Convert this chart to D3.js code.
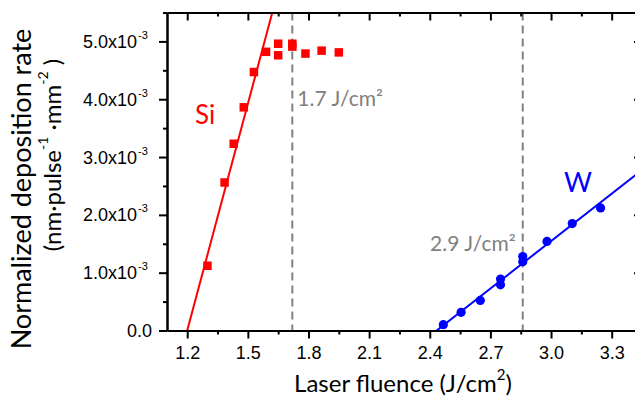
<!DOCTYPE html>
<html>
<head>
<meta charset="utf-8">
<script src="https://cdn.jsdelivr.net/npm/d3@7"></script>
<style>
  html, body { margin: 0; padding: 0; background: #fff; }
  svg { display: block; font-family: Lato, "Open Sans", sans-serif; }
</style>
</head>
<body>
<svg id="chart" width="635" height="398"></svg>
<script>
// Si deposition rate vs. fluence (rate in units of 1e-3 nm·pulse^-1·mm^-2)
const siFluence = [1.30, 1.385, 1.43, 1.48, 1.53, 1.59, 1.65, 1.65, 1.72, 1.72, 1.785, 1.865, 1.95];
const siRate    = [1.12, 2.56, 3.23, 3.86, 4.47, 4.82, 4.96, 4.76, 4.96, 4.91, 4.79, 4.84, 4.81];

// W deposition rate vs. fluence
const wFluence = [2.467, 2.555, 2.65, 2.75, 2.75, 2.86, 2.86, 2.98, 3.105, 3.245];
const wRate    = [0.10, 0.315, 0.52, 0.89, 0.79, 1.28, 1.19, 1.54, 1.85, 2.12];

// Linear fits (end points)
const siFitFluence = [1.2, 1.621];
const siFitRate    = [0.0, 5.5];
const wFitFluence  = [2.434, 3.45];
const wFitRate     = [0.0, 2.776];

// Threshold markers
const thresholdFluence = [1.72, 2.86];
const thresholdLabels  = ["1.7 J/cm²", "2.9 J/cm²"];

// Axis ticks
const xMajorTicks = [1.2, 1.5, 1.8, 2.1, 2.4, 2.7, 3.0, 3.3];
const xMinorTicks = [1.35, 1.65, 1.95, 2.25, 2.55, 2.85, 3.15, 3.45];
const yMajorTicks = [0, 1, 2, 3, 4, 5];
const yMinorTicks = [0.5, 1.5, 2.5, 3.5, 4.5, 5.5];

const svg = d3.select("#chart");
const plotLeft = 167, plotRight = 642, plotTop = 12.5, plotBottom = 330.5;

const x = d3.scaleLinear().domain([1.1, 3.45]).range([plotLeft, plotRight]);
const y = d3.scaleLinear().domain([0, 5.5]).range([plotBottom, plotTop]);

svg.append("defs").append("clipPath").attr("id", "plotClip")
  .append("rect").attr("x", plotLeft).attr("y", plotTop)
  .attr("width", plotRight - plotLeft).attr("height", plotBottom - plotTop);

const plot = svg.append("g").attr("clip-path", "url(#plotClip)");

// threshold dashed lines
plot.selectAll("line.threshold").data(thresholdFluence).enter().append("line")
  .attr("class", "threshold")
  .attr("x1", d => x(d)).attr("x2", d => x(d))
  .attr("y1", plotTop).attr("y2", plotBottom)
  .attr("stroke", "#808080").attr("stroke-width", 2)
  .attr("stroke-dasharray", "8,5");

// fit lines
const line = d3.line().x(d => x(d[0])).y(d => y(d[1]));
plot.append("path").datum(d3.zip(siFitFluence, siFitRate))
  .attr("d", line).attr("fill", "none").attr("stroke", "#ff0000").attr("stroke-width", 2);
plot.append("path").datum(d3.zip(wFitFluence, wFitRate))
  .attr("d", line).attr("fill", "none").attr("stroke", "#0000ff").attr("stroke-width", 2);

// Si markers (squares)
const sq = 8.5;
plot.selectAll("rect.si").data(d3.zip(siFluence, siRate)).enter().append("rect")
  .attr("class", "si")
  .attr("x", d => x(d[0]) - sq / 2).attr("y", d => y(d[1]) - sq / 2)
  .attr("width", sq).attr("height", sq).attr("fill", "#ff0000");

// W markers (circles)
plot.selectAll("circle.w").data(d3.zip(wFluence, wRate)).enter().append("circle")
  .attr("class", "w")
  .attr("cx", d => x(d[0])).attr("cy", d => y(d[1]))
  .attr("r", 4.6).attr("fill", "#0000ff");

// axes
function styleAxis(g) {
  g.selectAll("path.domain").attr("stroke", "#000").attr("stroke-width", 2);
  g.selectAll(".tick line").attr("stroke", "#000").attr("stroke-width", 2);
  g.selectAll(".tick text").remove();
}

// bottom
svg.append("g").attr("transform", `translate(0,${plotBottom})`)
  .call(d3.axisBottom(x).tickValues(xMinorTicks).tickSizeInner(4).tickSizeOuter(0).tickFormat(""))
  .call(styleAxis);
const xAxisG = svg.append("g").attr("transform", `translate(0,${plotBottom})`)
  .call(d3.axisBottom(x).tickValues(xMajorTicks).tickSizeInner(8).tickSizeOuter(0));
styleAxis(xAxisG);
xAxisG.selectAll(".tick").append("text")
  .attr("x", 0).attr("y", 28)
  .attr("text-anchor", "middle")
  .attr("font-size", 18).attr("fill", "#000")
  .text(d => d3.format(".1f")(d));

// top (inward ticks)
svg.append("g").attr("transform", `translate(0,${plotTop})`)
  .call(d3.axisTop(x).tickValues(xMinorTicks).tickSizeInner(-4).tickSizeOuter(0).tickFormat(""))
  .call(styleAxis);
svg.append("g").attr("transform", `translate(0,${plotTop})`)
  .call(d3.axisTop(x).tickValues(xMajorTicks).tickSizeInner(-8).tickSizeOuter(0).tickFormat(""))
  .call(styleAxis);

// left
svg.append("g").attr("transform", `translate(${plotLeft},0)`)
  .call(d3.axisLeft(y).tickValues(yMinorTicks).tickSizeInner(4).tickSizeOuter(0).tickFormat(""))
  .call(styleAxis);
const yAxisG = svg.append("g").attr("transform", `translate(${plotLeft},0)`)
  .call(d3.axisLeft(y).tickValues(yMajorTicks).tickSizeInner(8).tickSizeOuter(0));
styleAxis(yAxisG);
yAxisG.selectAll(".tick").each(function (d) {
  const t = d3.select(this).append("text")
    .attr("font-size", 18).attr("fill", "#000").attr("y", 6);
  if (d === 0) {
    t.attr("x", -15).attr("text-anchor", "end").text("0.0");
  } else {
    t.attr("x", -30).attr("text-anchor", "end").text(d3.format(".1f")(d) + "x10");
    d3.select(this).append("text")
      .attr("font-size", 11).attr("fill", "#000")
      .attr("x", -29).attr("y", -3).attr("text-anchor", "start")
      .text("-3");
  }
});

// right (inward ticks)
svg.append("g").attr("transform", `translate(${plotRight},0)`)
  .call(d3.axisRight(y).tickValues(yMinorTicks).tickSizeInner(-4).tickSizeOuter(0).tickFormat(""))
  .call(styleAxis);
svg.append("g").attr("transform", `translate(${plotRight},0)`)
  .call(d3.axisRight(y).tickValues(yMajorTicks).tickSizeInner(-8).tickSizeOuter(0).tickFormat(""))
  .call(styleAxis);

// threshold labels
svg.append("text").attr("x", x(thresholdFluence[0]) + 5).attr("y", 106)
  .attr("font-size", 21).attr("fill", "#808080").text(thresholdLabels[0]);
svg.append("text").attr("x", x(thresholdFluence[1]) - 7).attr("y", 251)
  .attr("font-size", 21).attr("fill", "#808080").attr("text-anchor", "end").text(thresholdLabels[1]);

// series labels
svg.append("text").attr("x", 195).attr("y", 124).attr("font-size", 26)
  .attr("fill", "#ff0000").text("Si");
svg.append("text").attr("x", 564).attr("y", 192).attr("font-size", 27)
  .attr("fill", "#0000ff").text("W");

// x-axis title
const xt = svg.append("text").attr("x", 403).attr("y", 392)
  .attr("text-anchor", "middle").attr("font-size", 24).attr("fill", "#000");
xt.append("tspan").text("Laser fluence (J/cm");
xt.append("tspan").attr("font-size", 15).attr("dy", -12).text("2");
xt.append("tspan").attr("dy", 12).text(")");

// y-axis title
svg.append("text").attr("transform", "translate(31,189) rotate(-90)")
  .attr("text-anchor", "middle").attr("font-size", 27).attr("fill", "#000")
  .text("Normalized deposition rate");
const yt = svg.append("text").attr("transform", "translate(61,155) rotate(-90)")
  .attr("text-anchor", "middle").attr("font-size", 24).attr("fill", "#000");
yt.append("tspan").text("(nm·pulse");
yt.append("tspan").attr("font-size", 14).attr("dy", -13).text("-1");
yt.append("tspan").attr("dy", 13).text(" ·mm");
yt.append("tspan").attr("font-size", 14).attr("dy", -13).text("-2");
yt.append("tspan").attr("dy", 13).text(" )");
</script>
</body>
</html>
